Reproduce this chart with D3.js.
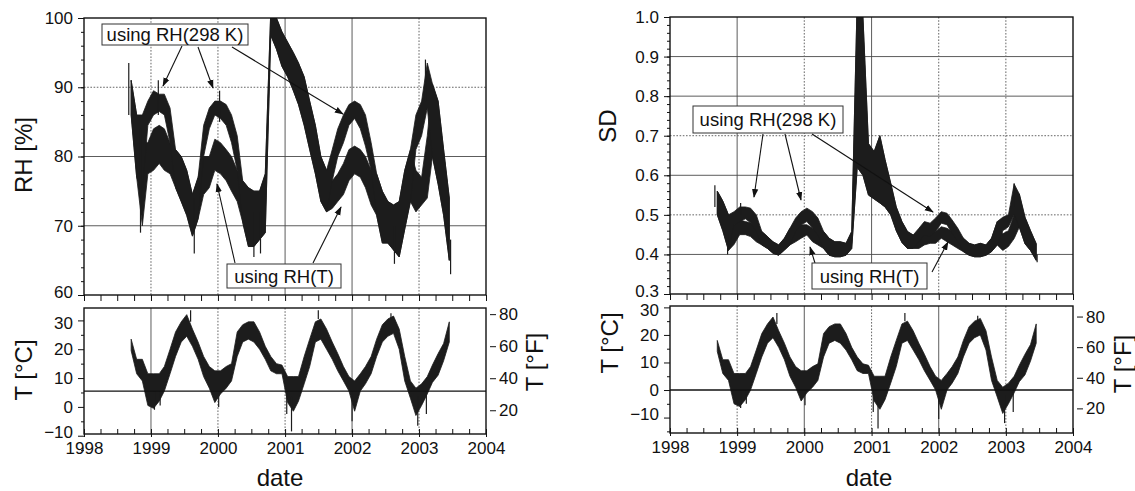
<!DOCTYPE html>
<html>
<head>
<meta charset="utf-8">
<script src="https://cdn.jsdelivr.net/npm/d3@7"></script>
<style>
  body { margin: 0; background: #fff; }
  svg { font-family: "Liberation Sans", Arial, sans-serif; }
</style>
</head>
<body>
<div id="chart"></div>
<script>
// monthly envelopes (low / high of the noisy record)
const months = [
  "1998-09","1998-10","1998-11","1998-12",
  "1999-01","1999-02","1999-03","1999-04","1999-05","1999-06","1999-07","1999-08","1999-09","1999-10","1999-11","1999-12",
  "2000-01","2000-02","2000-03","2000-04","2000-05","2000-06","2000-07","2000-08","2000-09","2000-10","2000-11","2000-12",
  "2001-01","2001-02","2001-03","2001-04","2001-05","2001-06","2001-07","2001-08","2001-09","2001-10","2001-11","2001-12",
  "2002-01","2002-02","2002-03","2002-04","2002-05","2002-06","2002-07","2002-08","2002-09","2002-10","2002-11","2002-12",
  "2003-01","2003-02","2003-03","2003-04","2003-05","2003-06"
];

// RH [%]
const rh298Hi = [91,86,86,88,89.5,89,89,87,81,80, 78,74.5,77,84.5,87,88,88,87.5,86,83,
  76.5,75.5,75,75,77.5,101,100,98,96.5,95, 93.5,91.5,88,84.5,80,78,81,84,86,87.5,
  88,87.5,86,82,77.5,75,73.5,73,73.5,78, 81,86,88,93.5,90.5,88,81,74];
const rh298Lo = [86,77,75,84.5,86,86.5,86,82,75.5,73.5, 71.5,68.5,71,80,84,86,85.5,84.5,82,78,
  70.5,67,67,68,69,97.5,95.5,93,91.5,89.5, 87.5,84.5,81,77.5,73.5,72,76.5,80,82,84.5,
  85.5,84,81.5,78,71.5,67.5,67.5,66.5,65.5,69.5, 73.5,81,83,87,80,76,71.5,65];
const rhTHi = [91,86,82,82,84,84.5,84,82,81,80, 78,74.5,77,80,80,82.5,82,81,80,78,
  76.5,75.5,75,75,77.5,101,100,98,96.5,95, 93.5,91.5,88,84.5,80,78,76.5,77.5,79,81,
  81.5,81,80,78,77.5,75,73.5,73,73.5,78, 81,78,77,83,90.5,88,81,74];
const rhTLo = [86,77,70,77.5,78,79,78,77.5,75.5,73.5, 71.5,68.5,71,74.5,75.5,78,77.5,76.5,75,73.5,
  70.5,67,67,68,69,97.5,95.5,93,91.5,89.5, 87.5,84.5,81,77.5,73.5,72,72.5,73.5,74.5,76.5,
  77.5,77,75.5,73,71.5,67.5,67.5,66.5,65.5,69.5, 73.5,72,73,74,80,76,71.5,65];

// SD
const sd298Hi = [.56,.535,.50,.508,.52,.52,.517,.50,.458,.445, .432,.424,.441,.466,.492,.508,.517,.508,.492,.458,
  .441,.432,.432,.428,.458,1.05,1.0,.68,.66,.70, .64,.58,.52,.483,.458,.449,.466,.483,.479,.492,
  .508,.504,.487,.466,.441,.428,.424,.428,.424,.441, .483,.494,.50,.578,.553,.494,.46,.427];
const sd298Lo = [.50,.46,.41,.475,.483,.49,.48,.458,.424,.415, .403,.398,.411,.424,.458,.475,.483,.466,.449,.415,
  .398,.394,.394,.398,.415,.62,.60,.55,.54,.53, .52,.50,.46,.43,.415,.415,.432,.449,.445,.458,
  .479,.475,.453,.432,.407,.398,.394,.394,.398,.407, .424,.46,.47,.50,.469,.427,.41,.385];
const sdTHi = [.56,.535,.50,.475,.487,.483,.48,.466,.458,.445, .432,.424,.441,.466,.466,.475,.475,.466,.458,.458,
  .441,.432,.432,.428,.458,1.05,1.0,.68,.66,.70, .64,.58,.52,.483,.458,.449,.449,.458,.458,.458,
  .47,.466,.458,.445,.441,.428,.424,.428,.424,.441, .483,.452,.46,.50,.553,.494,.46,.427];
const sdTLo = [.50,.46,.41,.425,.45,.45,.445,.432,.424,.415, .403,.398,.411,.424,.432,.441,.449,.432,.424,.415,
  .398,.394,.394,.398,.415,.62,.60,.55,.54,.53, .52,.50,.46,.43,.415,.415,.415,.424,.428,.428,
  .441,.432,.424,.415,.407,.398,.394,.394,.398,.407, .424,.41,.42,.44,.469,.427,.41,.385];

// T [°C]
const tempHi = [18,11,11,6,6,6,8.5,14.5,20.5,24, 26.5,21.5,17,12,8.5,7,7,8.5,9.5,20.5,
  23,24,24,20.5,15.5,12,9.5,9,5,5, 5,12,18,24,25,21.5,17,13,8.5,5,
  3.5,6,8.5,12,18,23,25,26,21.5,12, 3.5,1,2.5,5,9,13,16.5,24];
const tempLo = [14,6,3.5,-5,-6,-3.5,0,6,12,17, 19,15.5,11,5,1,-4,-1,1,3.5,12,
  17,18,17,14.5,11,7,6,6,-4,-7, -3.5,2.5,8.5,17,18,14.5,11,7,3.5,0,
  -7,0,2.5,6,12,17,19,20,14.5,3.5, -2.5,-8.5,-5,-1,3,5.5,10.5,17];

// single spikes that stick out of the envelopes
const rhSpikeDates = ["1998-09-02","1998-11-05","1999-02-10","1999-08-25","2000-01-10",
  "2000-07-15","2000-08-20","2002-08-20","2003-02-05","2003-06-22"];
const rhSpikeHi = [93.5, 84, 91, 74, 89.5, 72, 72, 70, 94, 68];
const rhSpikeLo = [86, 69, 86, 66, 85, 65.5, 66, 64.5, 88, 63];

const sdSpikeDates = ["1998-09-02","1998-11-10","1999-01-20","2003-02-15","2003-06-20"];
const sdSpikeHi = [.575, .45, .53, .58, .40];
const sdSpikeLo = [.52, .40, .50, .52, .38];

const tSpikeDates = ["1999-01-20","1999-02-20","1999-08-05","2000-01-05","2001-01-10",
  "2001-02-05","2001-07-01","2002-01-01","2002-08-01","2002-12-25","2003-02-10"];
const tSpikeHi = [0, 0, 28, 0, 0, -2, 28, 0, 27, -2, 0];
const tSpikeLo = [-6.5, -5, 24, -5.5, -8, -14, 25, -10.5, 25, -12, -8];

const yearTicks = [1998, 1999, 2000, 2001, 2002, 2003, 2004];
const rhTicks = [60, 70, 80, 90, 100];
const sdTicks = [0.3, 0.4, 0.5, 0.6, 0.7, 0.8, 0.9, 1.0];
const tempTicks = [-10, 0, 10, 20, 30];
const fahrTicks = [20, 40, 60, 80];

const W = 1135, H = 491;
const ink = "#1c1c1c";
const FONT = "Liberation Sans, Arial, sans-serif";
const FONT_TICK = 17, FONT_TITLE = 24, FONT_NOTE = 18.5;

const svg = d3.select("#chart").append("svg").attr("width", W).attr("height", H);
const defs = svg.append("defs");
defs.append("marker")
  .attr("id", "arrow").attr("viewBox", "0 0 10 10")
  .attr("refX", 9).attr("refY", 5)
  .attr("markerWidth", 9).attr("markerHeight", 9)
  .attr("markerUnits", "userSpaceOnUse")
  .attr("orient", "auto")
  .append("path").attr("d", "M0,1.5 L10,5 L0,8.5 Z").attr("fill", "#111");

const yr = (y) => new Date(y, 0, 1);
const parseDay = d3.timeParse("%Y-%m-%d");
const dates = months.map((m) => {
  const [y, mo] = m.split("-").map(Number);
  return new Date(y, mo - 1, 15);
});
const band = (hi, lo) => dates.map((d, i) => ({ date: d, hi: hi[i], lo: lo[i] }));
const spikes = (ds, hi, lo) => ds.map((d, i) => ({ date: parseDay(d), hi: hi[i], lo: lo[i] }));

const panels = [
  {
    id: "L", x0: 84, x1: 486, top0: 18, top1: 295, bot0: 308, bot1: 434,
    topDomain: [60, 100], topTicks: rhTicks, topMinorStep: 2, topFmt: d3.format("d"),
    series: [band(rhTHi, rhTLo), band(rh298Hi, rh298Lo)],
    topSpikes: spikes(rhSpikeDates, rhSpikeHi, rhSpikeLo),
    tDomain: [-14.9, 28.8], tShift: 5.5,
    topTitle: "RH [%]", topTitleAt: [23, 155],
    cTitleAt: [23, 370], fTitleAt: [534, 362], dateAt: [280, 486],
    hGridStyle: ["s", "s", "d"],            // 70, 80, 90
    vGridTop: ["d", "d", "s", "s", "d"],     // 1999..2003
    vGridBot: ["s", "d", "d", "s", "d"],
    boxes: [
      { text: "using RH(298 K)", x: 102, y: 24, w: 146, h: 21 },
      { text: "using RH(T)", x: 227, y: 264, w: 114, h: 24 }
    ],
    arrows: [[182, 46, 163, 86], [198, 47, 213, 88], [232, 47, 343, 114],
             [235, 263, 217, 184], [313, 263, 341, 207]]
  },
  {
    id: "R", x0: 670, x1: 1073, top0: 17, top1: 294, bot0: 306, bot1: 433,
    topDomain: [0.3, 1.0], topTicks: sdTicks, topMinorStep: 0.02, topFmt: d3.format(".1f"),
    series: [band(sdTHi, sdTLo), band(sd298Hi, sd298Lo)],
    topSpikes: spikes(sdSpikeDates, sdSpikeHi, sdSpikeLo),
    tDomain: [-15.6, 30.5], tShift: 0,
    topTitle: "SD", topTitleAt: [607, 126],
    cTitleAt: [609, 343], fTitleAt: [1122, 364], dateAt: [869, 486],
    hGridStyle: ["s", "d", "s", "d", "s", "s"], // 0.4 .. 0.9
    vGridTop: ["s", "d", "s", "d", "d"],
    vGridBot: ["d", "s", "d", "s", "d"],
    boxes: [
      { text: "using RH(298 K)", x: 693, y: 106, w: 150, h: 27 },
      { text: "using RH(T)", x: 812, y: 263, w: 115, h: 26 }
    ],
    arrows: [[763, 134, 754, 197], [785, 134, 801, 200], [812, 134, 933, 212],
             [815, 263, 810, 247], [932, 272, 948, 242]]
  }
];

const gridAttrs = (sel, style) => sel
  .attr("stroke", style === "s" ? "#4a4a4a" : "#666")
  .attr("stroke-width", style === "s" ? 0.9 : 1)
  .attr("stroke-dasharray", style === "s" ? null : "1.6,1.6");

function styleAxis(g) {
  g.attr("font-size", FONT_TICK).attr("font-family", FONT);
  g.selectAll("text").attr("fill", "#111");
  g.selectAll("line").attr("stroke", "#111").attr("stroke-width", 1);
  g.select(".domain").remove();
}

function title(text, x, y, rotate) {
  svg.append("text")
    .attr("transform", `translate(${x},${y})` + (rotate ? " rotate(-90)" : ""))
    .attr("text-anchor", "middle")
    .attr("dominant-baseline", rotate ? "central" : "auto")
    .attr("font-size", FONT_TITLE)
    .attr("fill", "#111")
    .text(text);
}

function drawSpikes(g, data, x, y, clip) {
  g.append("g").attr("clip-path", clip)
    .selectAll("line").data(data).enter().append("line")
    .attr("x1", (d) => x(d.date)).attr("x2", (d) => x(d.date))
    .attr("y1", (d) => y(d.hi)).attr("y2", (d) => y(d.lo))
    .attr("stroke", ink).attr("stroke-width", 1.2);
}

panels.forEach((p) => {
  const x = d3.scaleTime().domain([yr(1998), yr(2004)]).range([p.x0, p.x1]);
  const yTop = d3.scaleLinear().domain(p.topDomain).range([p.top1, p.top0]);
  const yT = d3.scaleLinear().domain(p.tDomain).range([p.bot1, p.bot0]);
  const yTLabel = d3.scaleLinear().domain(p.tDomain.map((v) => v + p.tShift)).range([p.bot1, p.bot0]);
  const yF = d3.scaleLinear().domain(p.tDomain.map((c) => c * 1.8 + 32)).range([p.bot1, p.bot0]);

  const innerYears = yearTicks.slice(1, -1);
  const quarters = d3.timeMonth.every(3).range(yr(1998), yr(2004)).concat([yr(2004)]);

  defs.append("clipPath").attr("id", "clipTop" + p.id)
    .append("rect").attr("x", p.x0).attr("y", p.top0).attr("width", p.x1 - p.x0).attr("height", p.top1 - p.top0);
  defs.append("clipPath").attr("id", "clipBot" + p.id)
    .append("rect").attr("x", p.x0).attr("y", p.bot0).attr("width", p.x1 - p.x0).attr("height", p.bot1 - p.bot0);

  // ---------- top plot ----------
  const top = svg.append("g");
  const hGrid = p.topTicks.slice(1, -1);
  top.selectAll(".hg").data(hGrid).enter().append("line")
    .attr("x1", p.x0).attr("x2", p.x1)
    .attr("y1", (d) => yTop(d)).attr("y2", (d) => yTop(d))
    .each(function (d, i) { gridAttrs(d3.select(this), p.hGridStyle[i]); });
  top.selectAll(".vg").data(innerYears).enter().append("line")
    .attr("x1", (d) => x(yr(d))).attr("x2", (d) => x(yr(d)))
    .attr("y1", p.top0).attr("y2", p.top1)
    .each(function (d, i) { gridAttrs(d3.select(this), p.vGridTop[i]); });

  const areaTop = d3.area()
    .x((d) => x(d.date))
    .y0((d) => yTop(d.lo))
    .y1((d) => yTop(d.hi));
  top.append("g").attr("clip-path", `url(#clipTop${p.id})`)
    .selectAll("path").data(p.series).enter().append("path")
    .attr("d", areaTop)
    .attr("fill", ink).attr("stroke", ink).attr("stroke-width", 0.8)
    .attr("stroke-linejoin", "round");
  drawSpikes(top, p.topSpikes, x, yTop, `url(#clipTop${p.id})`);

  top.append("rect")
    .attr("x", p.x0).attr("y", p.top0).attr("width", p.x1 - p.x0).attr("height", p.top1 - p.top0)
    .attr("fill", "none").attr("stroke", "#111").attr("stroke-width", 1.4);

  const topMinor = d3.range(p.topDomain[0], p.topDomain[1] + 1e-9, p.topMinorStep);
  top.append("g").attr("transform", `translate(${p.x0},0)`)
    .call(d3.axisLeft(yTop).tickValues(topMinor).tickSize(3).tickFormat(""))
    .call(styleAxis);
  top.append("g").attr("transform", `translate(${p.x0},0)`)
    .call(d3.axisLeft(yTop).tickValues(p.topTicks).tickSize(6).tickPadding(5).tickFormat(p.topFmt))
    .call(styleAxis)
    .call((g) => g.selectAll(".tick").filter((d) => d === p.topDomain[0]).select("text").attr("dy", "0.15em"));
  top.append("g").attr("transform", `translate(0,${p.top1})`)
    .call(d3.axisBottom(x).tickValues(quarters).tickSize(6).tickFormat(""))
    .call(styleAxis);

  // ---------- bottom plot ----------
  const bot = svg.append("g");
  bot.selectAll(".vg").data(innerYears).enter().append("line")
    .attr("x1", (d) => x(yr(d))).attr("x2", (d) => x(yr(d)))
    .attr("y1", p.bot0).attr("y2", p.bot1)
    .each(function (d, i) { gridAttrs(d3.select(this), p.vGridBot[i]); });

  const areaT = d3.area()
    .x((d) => x(d.date))
    .y0((d) => yT(d.lo))
    .y1((d) => yT(d.hi));
  bot.append("path")
    .datum(band(tempHi, tempLo))
    .attr("clip-path", `url(#clipBot${p.id})`)
    .attr("d", areaT)
    .attr("fill", ink).attr("stroke", ink).attr("stroke-width", 0.8)
    .attr("stroke-linejoin", "round");
  drawSpikes(bot, spikes(tSpikeDates, tSpikeHi, tSpikeLo), x, yT, `url(#clipBot${p.id})`);

  bot.append("line")
    .attr("x1", p.x0).attr("x2", p.x1)
    .attr("y1", yT(0)).attr("y2", yT(0))
    .attr("stroke", "#111").attr("stroke-width", 1.3);

  bot.append("rect")
    .attr("x", p.x0).attr("y", p.bot0).attr("width", p.x1 - p.x0).attr("height", p.bot1 - p.bot0)
    .attr("fill", "none").attr("stroke", "#111").attr("stroke-width", 1.4);

  // °C axis (left)
  bot.append("g").attr("transform", `translate(${p.x0},0)`)
    .call(d3.axisLeft(yTLabel).tickValues([-15, -5, 5, 15, 25]).tickSize(3).tickFormat(""))
    .call(styleAxis);
  bot.append("g").attr("transform", `translate(${p.x0},0)`)
    .call(d3.axisLeft(yTLabel).tickValues(tempTicks).tickSize(6).tickPadding(5).tickFormat(d3.format("d")))
    .call(styleAxis)
    .call((g) => g.selectAll(".tick").filter((d) => d === 30).select("text").attr("dy", "0.45em"))
    .call((g) => g.selectAll(".tick").filter((d) => d === -10).select("text").attr("dy", "0.1em"));

  // °F axis (right)
  bot.append("g").attr("transform", `translate(${p.x1 + 4},0)`)
    .call(d3.axisRight(yF).tickValues(fahrTicks).tickSize(6).tickPadding(3).tickFormat(d3.format("d")))
    .call(styleAxis);

  // date axis
  bot.append("g").attr("transform", `translate(0,${p.bot1})`)
    .call(d3.axisBottom(x).tickValues(quarters).tickSize(-5).tickFormat(""))
    .call(styleAxis);
  bot.append("g").attr("transform", `translate(0,${p.bot1})`)
    .call(d3.axisBottom(x).tickValues(yearTicks.map(yr)).tickSize(3).tickPadding(5).tickFormat(d3.timeFormat("%Y")))
    .call(styleAxis);

  // ---------- titles ----------
  title(p.topTitle, p.topTitleAt[0], p.topTitleAt[1], true);
  title("T [°C]", p.cTitleAt[0], p.cTitleAt[1], true);
  title("T [°F]", p.fTitleAt[0], p.fTitleAt[1], true);
  title("date", p.dateAt[0], p.dateAt[1], false);

  // ---------- annotations ----------
  const notes = svg.append("g");
  notes.selectAll("line").data(p.arrows).enter().append("line")
    .attr("x1", (d) => d[0]).attr("y1", (d) => d[1])
    .attr("x2", (d) => d[2]).attr("y2", (d) => d[3])
    .attr("stroke", "#111").attr("stroke-width", 1.1)
    .attr("marker-end", "url(#arrow)");
  const box = notes.selectAll(".box").data(p.boxes).enter().append("g");
  box.append("rect")
    .attr("x", (d) => d.x).attr("y", (d) => d.y)
    .attr("width", (d) => d.w).attr("height", (d) => d.h)
    .attr("fill", "#fff").attr("stroke", "#333").attr("stroke-width", 1);
  box.append("text")
    .attr("x", (d) => d.x + d.w / 2).attr("y", (d) => d.y + d.h / 2)
    .attr("text-anchor", "middle").attr("dominant-baseline", "central")
    .attr("font-size", FONT_NOTE).attr("fill", "#111")
    .text((d) => d.text);
});
</script>
</body>
</html>
